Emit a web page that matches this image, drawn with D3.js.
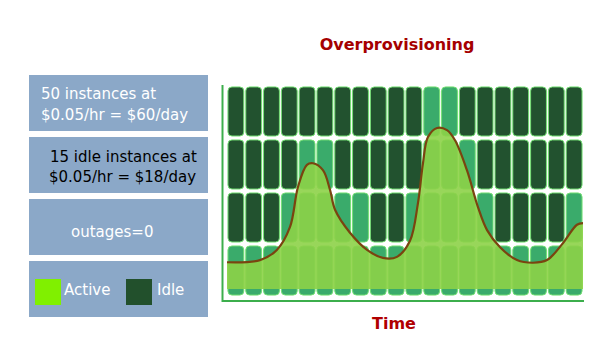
<!DOCTYPE html>
<html>
<head>
<meta charset="utf-8">
<script src="https://cdn.jsdelivr.net/npm/d3@7"></script>
<style>
  body { margin: 0; background: #fff; }
  svg { display: block; font-family: "DejaVu Sans", Verdana, sans-serif; }
</style>
</head>
<body>
<div id="chart"></div>
<script>
// data
const slots = d3.range(20);                 // time slots (columns)
const rows = [0, 1, 2, 3];                  // instance rows, 0 = bottom
const activeRows = [1, 1, 1, 2, 3, 3, 2, 2, 1, 1, 2, 4, 4, 3, 2, 1, 1, 1, 1, 2];
const loadTime = [0, 1.85, 2.8, 3.54, 3.99, 4.49, 4.83, 5.39, 5.79, 6.07, 6.91, 7.87, 8.76, 9.55,
  10.28, 10.73, 11.01, 11.29, 11.8, 12.36, 12.81, 13.48, 14.1, 14.61, 15.34, 16.29, 17.19, 17.98,
  18.88, 19.66, 20];
const loadValue = [0.65, 0.69, 0.88, 1.31, 2.06, 2.47, 2.5, 2.37, 2.0, 1.63, 1.2, 0.88, 0.73, 0.75,
  1.05, 1.76, 2.5, 2.99, 3.16, 3.12, 2.93, 2.37, 1.68, 1.25, 0.93, 0.69, 0.64, 0.69,
  1.01, 1.35, 1.38];
const panelLines = [
  ["50 instances at", "$0.05/hr = $60/day"],
  ["15 idle instances at", "$0.05/hr = $18/day"],
  ["outages=0"]
];
const legendLabels = ["Active", "Idle"];

const width = 600, height = 351;
const color = {
  idle: '#22522f',
  active: '#3aab6b',
  stroke: '#74e074',
  area: '#8dd148',
  line: '#7a4410',
  panel: '#8ba8c8',
  title: '#a50000',
  legendActive: '#80f000',
  legendIdle: '#22502c'
};

const svg = d3.select('#chart').append('svg')
  .attr('width', width)
  .attr('height', height);

// scales
const x = d3.scaleBand().domain(slots).range([226, 584]).padding(0.11);
const y = d3.scaleBand().domain(rows.slice().reverse()).range([83, 299]).padding(0.074);
const tx = d3.scaleLinear().domain([0, 20]).range([227, 583]);
const ty = d3.scaleLinear().domain([0, 4]).range([297, 83]);

// title
svg.append('text')
  .attr('x', 397).attr('y', 50)
  .attr('text-anchor', 'middle')
  .attr('font-size', 16).attr('font-weight', 'bold')
  .attr('fill', color.title)
  .text('Overprovisioning');

svg.append('text')
  .attr('x', 394).attr('y', 329)
  .attr('text-anchor', 'middle')
  .attr('font-size', 16).attr('font-weight', 'bold')
  .attr('fill', '#b00000')
  .text('Time');

// cells
const cells = [];
slots.forEach((s, i) => rows.forEach(r => cells.push({ s, r, active: r < activeRows[i] })));

svg.append('g').selectAll('rect')
  .data(cells)
  .enter().append('rect')
  .attr('x', d => x(d.s))
  .attr('y', d => y(d.r))
  .attr('width', x.bandwidth())
  .attr('height', y.bandwidth())
  .attr('rx', 4)
  .attr('fill', d => d.active ? color.active : color.idle)
  .attr('stroke', color.stroke)
  .attr('stroke-width', 1);

// load area + line
const pts = loadTime.map((t, i) => [t, loadValue[i]]);
const area = d3.area()
  .x(d => tx(d[0]))
  .y0(ty(0.15))
  .y1(d => ty(d[1]))
  .curve(d3.curveCatmullRom);
const line = d3.line()
  .x(d => tx(d[0]))
  .y(d => ty(d[1]))
  .curve(d3.curveCatmullRom);

svg.append('path')
  .datum(pts)
  .attr('d', area)
  .attr('fill', color.area)
  .attr('fill-opacity', 0.9);

svg.append('path')
  .datum(pts)
  .attr('d', line)
  .attr('fill', 'none')
  .attr('stroke', color.line)
  .attr('stroke-width', 2.2);

// axes lines
svg.append('line')
  .attr('x1', 222.5).attr('x2', 222.5)
  .attr('y1', 85).attr('y2', 302)
  .attr('stroke', '#3cae4c').attr('stroke-width', 2);
svg.append('line')
  .attr('x1', 222).attr('x2', 584)
  .attr('y1', 301).attr('y2', 301)
  .attr('stroke', '#3cae4c').attr('stroke-width', 2);

// left panels
const panelTop = [75, 137, 199, 261];
panelTop.forEach(top => {
  svg.append('rect')
    .attr('x', 29).attr('y', top)
    .attr('width', 179).attr('height', 56)
    .attr('fill', color.panel);
});

const txt = (s, xx, yy, fill) => svg.append('text')
  .attr('x', xx).attr('y', yy)
  .attr('font-size', 15)
  .attr('fill', fill)
  .text(s);

txt(panelLines[0][0], 41, 99, '#fff');
txt(panelLines[0][1], 41, 120, '#fff');
txt(panelLines[1][0], 50, 162, '#000');
txt(panelLines[1][1], 49, 182, '#000');
txt(panelLines[2][0], 71, 237, '#fff');

// legend
svg.append('rect').attr('x', 35).attr('y', 279).attr('width', 26).attr('height', 26)
  .attr('fill', color.legendActive);
txt(legendLabels[0], 64, 295, '#fff');
svg.append('rect').attr('x', 126).attr('y', 279).attr('width', 26).attr('height', 26)
  .attr('fill', color.legendIdle);
txt(legendLabels[1], 157, 295, '#fff');
</script>
</body>
</html>
